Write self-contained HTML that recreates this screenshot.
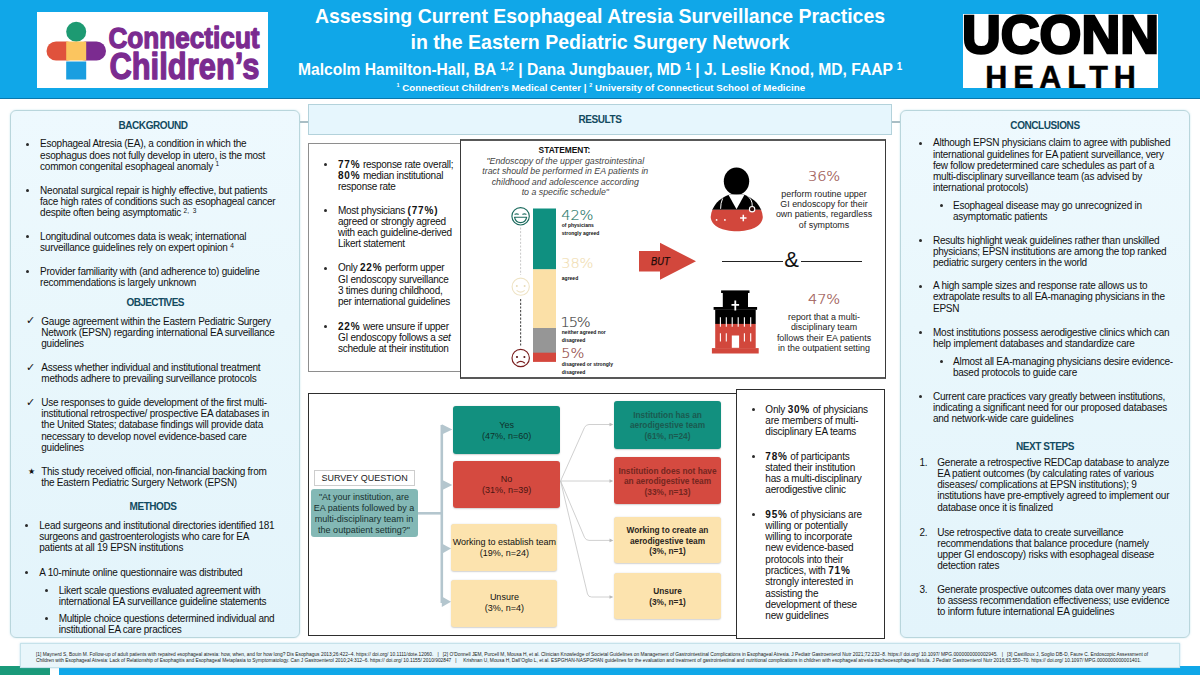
<!DOCTYPE html>
<html lang="en">
<head>
<meta charset="utf-8">
<title>Assessing Current Esophageal Atresia Surveillance Practices</title>
<style>
*{box-sizing:border-box;margin:0;padding:0}
html,body{width:1200px;height:675px;overflow:hidden;background:#fff}
body{position:relative;font-family:"Liberation Sans",sans-serif;color:#111;font-size:10px;line-height:11.2px}
.abs{position:absolute}
#hdr{left:0;top:0;width:1200px;height:99px;background:#10a7e8;border-bottom:1.5px solid #0a78ad}
.panel{background:linear-gradient(180deg,#eef9fe 0%,#e9f7fc 40%,#e3f4fb 100%);border:1px solid #b9d6dc;border-radius:6px;box-shadow:0 0 2px rgba(150,205,225,.55)}
.b{position:absolute;white-space:nowrap;font-size:10px;line-height:11.2px;color:#111}
.h{color:#124a60;font-weight:bold}
.w{color:#fff}
b{font-weight:bold}
b.sp{letter-spacing:0.8px}
sup.s{font-size:6.5px;line-height:0;vertical-align:baseline;position:relative;top:-3.6px;letter-spacing:0}
.rb{font-family:"Liberation Sans",sans-serif}
</style>
</head>
<body>

<!-- ================= PAGE CHROME ================= -->
<div id="hdr" class="abs"></div>
<div class="abs panel" id="lp" style="left:10px;top:109.5px;width:289.6px;height:528px"></div>
<div class="abs panel" id="rp" style="left:900px;top:109.5px;width:290px;height:528px"></div>
<div class="abs" style="left:300px;top:121.3px;width:9px;height:1.4px;background:#a9bec5"></div>
<div class="abs" style="left:891px;top:121.3px;width:9px;height:1.4px;background:#a9bec5"></div>
<div class="abs" id="rh" style="left:308px;top:103.7px;width:584px;height:31px;background:#e6f6fd;border:1px solid #b3d2db"></div>

<!-- ================= HEADER CONTENT ================= -->
<div class="abs" id="cclogo" style="left:36.6px;top:11.5px;width:231px;height:76.7px;background:#fff">
<svg width="231" height="77" viewBox="0 0 231 77" style="position:absolute;left:0;top:0">
  <circle cx="39.2" cy="19.8" r="10" fill="#1d9a72"/>
  <rect x="9.5" y="29.5" width="30" height="19" rx="9.5" fill="#e0523c"/>
  <rect x="39" y="29.5" width="30" height="19" rx="9.5" fill="#7b2b90"/>
  <rect x="29.2" y="29.5" width="20" height="19" fill="#fbc55f"/>
  <rect x="29.2" y="49.5" width="20" height="18" fill="#1a9ee0"/>
  <text x="71.4" y="36.2" font-family="'Liberation Sans',sans-serif" font-weight="bold" font-size="30" fill="#7b2b90" textLength="151.2" lengthAdjust="spacingAndGlyphs" stroke="#7b2b90" stroke-width="1.3" stroke-linejoin="round">Connecticut</text>
  <text x="72.4" y="66.8" font-family="'Liberation Sans',sans-serif" font-weight="bold" font-size="36.6" fill="#7b2b90" textLength="150" lengthAdjust="spacingAndGlyphs" stroke="#7b2b90" stroke-width="1.3" stroke-linejoin="round">Children’s</text>
</svg></div>
<div class="abs" id="uconn" style="left:963px;top:14px;width:195px;height:74px;background:#fff;overflow:hidden">
<svg width="195" height="74" viewBox="0 0 195 74" style="position:absolute;left:0;top:0">
  <text x="-1" y="39" font-family="'Liberation Sans',sans-serif" font-weight="bold" font-size="54.5" fill="#000" stroke="#000" stroke-width="2.6" textLength="197" lengthAdjust="spacingAndGlyphs">UCONN</text>
  <text x="22.3" y="73.7" font-family="'Liberation Sans',sans-serif" font-weight="bold" font-size="30.5" fill="#000" stroke="#000" stroke-width="0.5" textLength="150.5" lengthAdjust="spacing">HEALTH</text>
</svg></div>
<div class="b w" style="left:0.0px;top:4.23px;font-size:20.4px;line-height:24px;letter-spacing:0px;width:1200px;text-align:center;font-weight:bold;transform:scaleX(0.954);transform-origin:600px 50%;">Assessing Current Esophageal Atresia Surveillance Practices</div>
<div class="b w" style="left:0.0px;top:29.53px;font-size:20.4px;line-height:24px;letter-spacing:0px;width:1200px;text-align:center;font-weight:bold;transform:scaleX(0.958);transform-origin:600px 50%;">in the Eastern Pediatric Surgery Network</div>
<div class="b w" style="left:298.0px;top:60.83px;font-size:15.8px;line-height:18px;letter-spacing:0px;font-weight:bold;transform:scaleX(0.987);transform-origin:0 50%;">Malcolm Hamilton-Hall, BA <sup class="s" style="font-size:10px;top:-5.2px">1,2</sup> | Dana Jungbauer, MD <sup class="s" style="font-size:10px;top:-5.2px">1</sup> | J. Leslie Knod, MD, FAAP <sup class="s" style="font-size:10px;top:-5.2px">1</sup></div>
<div class="b w" style="left:396.5px;top:81.64px;font-size:9.7px;line-height:11px;letter-spacing:0.04px;font-weight:bold;"><sup class="s" style="font-size:5.5px;top:-3.3px">1</sup> Connecticut Children’s Medical Center | <sup class="s" style="font-size:5.5px;top:-3.3px">2</sup> University of Connecticut School of Medicine</div>
<!-- ================= LEFT PANEL TEXT ================= -->
<div class="b h" style="left:11.0px;top:120.41px;font-size:10px;line-height:11.2px;letter-spacing:-0.42px;width:284px;text-align:center;">BACKGROUND</div>
<div class="abs" style="left:26px;top:143px;width:3px;height:3px;border-radius:50%;background:#2a2a2a"></div>
<div class="b" style="left:40.1px;top:138.44px;font-size:10px;line-height:11.2px;letter-spacing:-0.25px;">Esophageal Atresia (EA), a condition in which the<br>esophagus does not fully develop in utero, is the most<br>common congenital esophageal anomaly <sup class="s">1</sup></div>
<div class="abs" style="left:26px;top:189px;width:3px;height:3px;border-radius:50%;background:#2a2a2a"></div>
<div class="b" style="left:40.1px;top:184.90px;font-size:10px;line-height:11.2px;letter-spacing:-0.25px;">Neonatal surgical repair is highly effective, but patients<br>face high rates of conditions such as esophageal cancer<br>despite often being asymptomatic <sup class="s">2, &nbsp;3</sup></div>
<div class="abs" style="left:26px;top:235px;width:3px;height:3px;border-radius:50%;background:#2a2a2a"></div>
<div class="b" style="left:40.1px;top:230.96px;font-size:10px;line-height:11.2px;letter-spacing:-0.25px;">Longitudinal outcomes data is weak; international<br>surveillance guidelines rely on expert opinion <sup class="s">4</sup></div>
<div class="abs" style="left:26px;top:270px;width:3px;height:3px;border-radius:50%;background:#2a2a2a"></div>
<div class="b" style="left:40.1px;top:265.90px;font-size:10px;line-height:11.2px;letter-spacing:-0.25px;">Provider familiarity with (and adherence to) guideline<br>recommendations is largely unknown</div>
<div class="b h" style="left:13.2px;top:297.44px;font-size:10px;line-height:11.2px;letter-spacing:-0.62px;width:284px;text-align:center;">OBJECTIVES</div>
<div class="b" style="left:26.4px;top:315.49px;font-size:10.5px;line-height:11.2px;letter-spacing:0px;font-family:"DejaVu Sans",sans-serif;">✓</div>
<div class="b" style="left:41.3px;top:315.67px;font-size:10px;line-height:11.2px;letter-spacing:-0.25px;">Gauge agreement within the Eastern Pediatric Surgery<br>Network (EPSN) regarding international EA surveillance<br>guidelines</div>
<div class="b" style="left:26.4px;top:361.75px;font-size:10.5px;line-height:11.2px;letter-spacing:0px;font-family:"DejaVu Sans",sans-serif;">✓</div>
<div class="b" style="left:41.3px;top:361.93px;font-size:10px;line-height:11.2px;letter-spacing:-0.25px;">Assess whether individual and institutional treatment<br>methods adhere to prevailing surveillance protocols</div>
<div class="b" style="left:26.4px;top:396.90px;font-size:10.5px;line-height:11.2px;letter-spacing:0px;font-family:"DejaVu Sans",sans-serif;">✓</div>
<div class="b" style="left:41.3px;top:397.07px;font-size:10px;line-height:11.2px;letter-spacing:-0.25px;">Use responses to guide development of the first multi-<br>institutional retrospective/ prospective EA databases in<br>the United States; database findings will provide data<br>necessary to develop novel evidence-based care<br>guidelines</div>
<div class="b" style="left:27.6px;top:466.05px;font-size:8.3px;line-height:11.2px;letter-spacing:0px;font-family:"DejaVu Sans",sans-serif;">★</div>
<div class="b" style="left:41.2px;top:466.26px;font-size:10px;line-height:11.2px;letter-spacing:-0.25px;">This study received official, non-financial backing from<br>the Eastern Pediatric Surgery Network (EPSN)</div>
<div class="b h" style="left:11.0px;top:501.31px;font-size:10px;line-height:11.2px;letter-spacing:-0.42px;width:284px;text-align:center;">METHODS</div>
<div class="abs" style="left:25px;top:524px;width:3px;height:3px;border-radius:50%;background:#2a2a2a"></div>
<div class="b" style="left:39.3px;top:519.93px;font-size:10px;line-height:11.2px;letter-spacing:-0.25px;">Lead surgeons and institutional directories identified 181<br>surgeons and gastroenterologists who care for EA<br>patients at all 19 EPSN institutions</div>
<div class="abs" style="left:25px;top:571px;width:3px;height:3px;border-radius:50%;background:#2a2a2a"></div>
<div class="b" style="left:39.3px;top:566.70px;font-size:10px;line-height:11.2px;letter-spacing:-0.25px;">A 10-minute online questionnaire was distributed</div>
<div class="abs" style="left:45px;top:589px;width:3px;height:3px;border-radius:50%;background:#2a2a2a"></div>
<div class="b" style="left:58.7px;top:584.52px;font-size:10px;line-height:11.2px;letter-spacing:-0.25px;">Likert scale questions evaluated agreement with<br>international EA surveillance guideline statements</div>
<div class="abs" style="left:45px;top:617px;width:3px;height:3px;border-radius:50%;background:#2a2a2a"></div>
<div class="b" style="left:58.7px;top:612.66px;font-size:10px;line-height:11.2px;letter-spacing:-0.25px;">Multiple choice questions determined individual and<br>institutional EA care practices</div>
<!-- ================= RIGHT PANEL TEXT ================= -->
<div class="b h" style="left:900.0px;top:120.21px;font-size:10px;line-height:11.2px;letter-spacing:-0.42px;width:290px;text-align:center;">CONCLUSIONS</div>
<div class="abs" style="left:919px;top:142px;width:3px;height:3px;border-radius:50%;background:#2a2a2a"></div>
<div class="b" style="left:933.0px;top:137.44px;font-size:10px;line-height:11.2px;letter-spacing:-0.25px;">Although EPSN physicians claim to agree with published<br>international guidelines for EA patient surveillance, very<br>few follow predetermined care schedules as part of a<br>multi-disciplinary surveillance team (as advised by<br>international protocols)</div>
<div class="abs" style="left:940px;top:204px;width:3px;height:3px;border-radius:50%;background:#2a2a2a"></div>
<div class="b" style="left:953.0px;top:199.84px;font-size:10px;line-height:11.2px;letter-spacing:-0.25px;">Esophageal disease may go unrecognized in<br>asymptomatic patients</div>
<div class="abs" style="left:919px;top:239px;width:3px;height:3px;border-radius:50%;background:#2a2a2a"></div>
<div class="b" style="left:933.0px;top:234.50px;font-size:10px;line-height:11.2px;letter-spacing:-0.25px;">Results highlight weak guidelines rather than unskilled<br>physicians; EPSN institutions are among the top ranked<br>pediatric surgery centers in the world</div>
<div class="abs" style="left:919px;top:285px;width:3px;height:3px;border-radius:50%;background:#2a2a2a"></div>
<div class="b" style="left:933.0px;top:280.28px;font-size:10px;line-height:11.2px;letter-spacing:-0.25px;">A high sample sizes and response rate allows us to<br>extrapolate results to all EA-managing physicians in the<br>EPSN</div>
<div class="abs" style="left:919px;top:331px;width:3px;height:3px;border-radius:50%;background:#2a2a2a"></div>
<div class="b" style="left:933.0px;top:326.56px;font-size:10px;line-height:11.2px;letter-spacing:-0.25px;">Most institutions possess aerodigestive clinics which can<br>help implement databases and standardize care</div>
<div class="abs" style="left:940px;top:360px;width:3px;height:3px;border-radius:50%;background:#2a2a2a"></div>
<div class="b" style="left:953.0px;top:356.01px;font-size:10px;line-height:11.2px;letter-spacing:-0.25px;">Almost all EA-managing physicians desire evidence-<br>based protocols to guide care</div>
<div class="abs" style="left:919px;top:395px;width:3px;height:3px;border-radius:50%;background:#2a2a2a"></div>
<div class="b" style="left:933.0px;top:390.87px;font-size:10px;line-height:11.2px;letter-spacing:-0.25px;">Current care practices vary greatly between institutions,<br>indicating a significant need for our proposed databases<br>and network-wide care guidelines</div>
<div class="b h" style="left:900.0px;top:441.35px;font-size:10px;line-height:11.2px;letter-spacing:-0.42px;width:290px;text-align:center;">NEXT STEPS</div>
<div class="b" style="left:919.5px;top:456.78px;font-size:10px;line-height:11.2px;letter-spacing:-0.25px;">1.</div>
<div class="b" style="left:937.3px;top:456.78px;font-size:10px;line-height:11.2px;letter-spacing:-0.25px;">Generate a retrospective REDCap database to analyze<br>EA patient outcomes (by calculating rates of various<br>diseases/ complications at EPSN institutions); 9<br>institutions have pre-emptively agreed to implement our<br>database once it is finalized</div>
<div class="b" style="left:919.5px;top:526.70px;font-size:10px;line-height:11.2px;letter-spacing:-0.25px;">2.</div>
<div class="b" style="left:937.3px;top:526.70px;font-size:10px;line-height:11.2px;letter-spacing:-0.25px;">Use retrospective data to create surveillance<br>recommendations that balance procedure (namely<br>upper GI endoscopy) risks with esophageal disease<br>detection rates</div>
<div class="b" style="left:919.5px;top:583.80px;font-size:10px;line-height:11.2px;letter-spacing:-0.25px;">3.</div>
<div class="b" style="left:937.3px;top:583.80px;font-size:10px;line-height:11.2px;letter-spacing:-0.25px;">Generate prospective outcomes data over many years<br>to assess recommendation effectiveness; use evidence<br>to inform future international EA guidelines</div>

<!-- ================= RESULTS ================= -->
<div class="b h" style="left:308.0px;top:113.94px;font-size:10px;line-height:11.2px;letter-spacing:-0.42px;width:584px;text-align:center;">RESULTS</div>
<div class="abs" style="left:308.2px;top:143px;width:154px;height:228.6px;background:#fff;border:1.5px solid #8e8e8e"></div>
<div class="abs" style="left:324px;top:163px;width:3px;height:3px;border-radius:50%;background:#2a2a2a"></div>
<div class="b" style="left:338.0px;top:158.86px;font-size:10px;line-height:11.15px;letter-spacing:-0.27px;"><b class='sp'>77%</b> response rate overall;<br><b class='sp'>80%</b> median institutional<br>response rate</div>
<div class="abs" style="left:324px;top:209px;width:3px;height:3px;border-radius:50%;background:#2a2a2a"></div>
<div class="b" style="left:338.0px;top:204.86px;font-size:10px;line-height:11.15px;letter-spacing:-0.27px;">Most physicians <b class='sp'>(77%)</b><br>agreed or strongly agreed<br>with each guideline-derived<br>Likert statement</div>
<div class="abs" style="left:324px;top:267px;width:3px;height:3px;border-radius:50%;background:#2a2a2a"></div>
<div class="b" style="left:338.0px;top:262.46px;font-size:10px;line-height:11.15px;letter-spacing:-0.27px;">Only <b class='sp'>22%</b> perform upper<br>GI endoscopy surveillance<br>3 times during childhood,<br>per international guidelines</div>
<div class="abs" style="left:324px;top:325px;width:3px;height:3px;border-radius:50%;background:#2a2a2a"></div>
<div class="b" style="left:338.0px;top:320.96px;font-size:10px;line-height:11.15px;letter-spacing:-0.27px;"><b class='sp'>22%</b> were unsure if upper<br>GI endoscopy follows a <i>set</i><br>schedule at their institution</div>
<div class="abs" style="left:460px;top:139px;width:425.6px;height:239.5px;background:#fff;border:1.6px solid #3a3a3a;border-top:2px solid #585858;border-bottom:2px solid #585858"></div>
<div class="b" style="left:460.0px;top:145.09px;font-size:8.4px;line-height:10px;letter-spacing:0px;width:209px;text-align:center;font-weight:bold;color:#111;">STATEMENT:</div>
<div class="b" style="left:460.8px;top:155.77px;font-size:8.8px;line-height:10.37px;letter-spacing:0px;width:209px;text-align:center;font-style:italic;color:#434343;">"Endoscopy of the upper gastrointestinal<br>tract should be performed in EA patients in<br>childhood and adolescence according<br>to a specific schedule"</div>
<svg class="abs" style="left:500px;top:200px" width="90" height="178" viewBox="500 200 90 178">
  <rect x="533" y="208.5" width="23" height="61" fill="#0f9080"/>
  <rect x="533" y="269.3" width="23" height="59" fill="#fbe0a7"/>
  <rect x="533" y="328" width="23" height="25" fill="#969696"/>
  <rect x="533" y="352.7" width="23" height="9.2" fill="#d4473d"/>
  <line x1="520.6" y1="227.5" x2="520.6" y2="275" stroke="#b9b9b9" stroke-width="0.8" stroke-dasharray="2 1.6"/>
  <line x1="520.6" y1="299" x2="520.6" y2="346.5" stroke="#555" stroke-width="1.15" stroke-dasharray="2.2 1.5"/>
  <g fill="none" stroke="#1c6b5e" stroke-width="1.15" stroke-linecap="round">
    <circle cx="520.6" cy="216.3" r="8.7"/>
    <path d="M515 214.2 Q516.6 213.4 518.3 214.2"/>
    <path d="M522.8 214.2 Q524.4 213.4 526 214.2"/>
    <path d="M514.5 217.2 H526.7 Q525.6 222.6 520.6 222.6 Q515.6 222.6 514.5 217.2 Z" stroke-linejoin="round"/>
  </g>
  <g fill="none" stroke="#eee3c4" stroke-width="1.1" stroke-linecap="round">
    <circle cx="520.7" cy="286.7" r="8.6"/>
    <path d="M517 290.6 Q520.7 293.6 524.3 290.6"/>
  </g>
  <circle cx="516.8" cy="286" r="1" fill="#e9dcb8"/><circle cx="524.6" cy="286" r="1" fill="#e9dcb8"/>
  <g fill="none" stroke="#7a1f1f" stroke-width="1.15" stroke-linecap="round">
    <circle cx="520.7" cy="358" r="8.7"/>
    <path d="M517 363 Q520.8 359.8 524.6 363"/>
  </g>
  <circle cx="517" cy="357" r="1.05" fill="#5a1515"/><circle cx="524.4" cy="357" r="1.05" fill="#5a1515"/>
</svg>
<div class="b" style="left:561.3px;top:206.94px;font-size:14.6px;line-height:16px;letter-spacing:-0.2px;font-family:'DejaVu Sans',sans-serif;font-weight:200;color:#1f7567;-webkit-text-stroke:0.15px #1f7567;">42%</div>
<div class="b" style="left:561.8px;top:221px;font-size:5px;line-height:8px;font-weight:bold;color:#111">of physicians<br>strongly agreed</div>
<div class="b" style="left:561.3px;top:255.24px;font-size:14.6px;line-height:16px;letter-spacing:-0.2px;font-family:'DejaVu Sans',sans-serif;font-weight:200;color:#f1deb2;-webkit-text-stroke:0.15px #f1deb2;">38%</div>
<div class="b" style="left:561.8px;top:274px;font-size:5px;line-height:8px;font-weight:bold;color:#111">agreed</div>
<div class="b" style="left:560.6px;top:313.94px;font-size:14.6px;line-height:16px;letter-spacing:-1.15px;font-family:'DejaVu Sans',sans-serif;font-weight:200;color:#3d3d3d;-webkit-text-stroke:0.15px #3d3d3d;">15%</div>
<div class="b" style="left:561.8px;top:328px;font-size:5px;line-height:8px;font-weight:bold;color:#111">neither agreed nor<br>disagreed</div>
<div class="b" style="left:561.3px;top:345.14px;font-size:14.6px;line-height:16px;letter-spacing:-0.2px;font-family:'DejaVu Sans',sans-serif;font-weight:200;color:#8f4541;-webkit-text-stroke:0.15px #8f4541;">5%</div>
<div class="b" style="left:561.8px;top:360px;font-size:5px;line-height:8px;font-weight:bold;color:#111">disagreed or strongly<br>disagreed</div>
<svg class="abs" style="left:636px;top:240px" width="64" height="44" viewBox="636 240 64 44">
  <polygon points="639,251 660,251 660,242.7 696,261.3 660,279.8 660,271.5 639,271.5" fill="#d2473c"/>
  <text x="651" y="265.2" font-family="'Liberation Sans',sans-serif" font-style="italic" font-size="10.4" fill="#1a0a08" textLength="18.6" lengthAdjust="spacingAndGlyphs" stroke="#1a0a08" stroke-width="0.25">BUT</text>
</svg>
<svg class="abs" style="left:705px;top:164px" width="64" height="72" viewBox="705 164 64 72">
  <defs><clipPath id="docb"><path d="M710.7 217 C711.5 206 719.5 198 729.5 194.6 L743.8 194.6 C753.8 198 762 206 762.8 217 C762.3 226.5 750.5 231.2 736.7 231.2 C723 231.2 711.2 226.5 710.7 217 Z"/></clipPath></defs>
  <ellipse cx="736.5" cy="181.3" rx="12.7" ry="13.8" fill="#000"/>
  <g clip-path="url(#docb)">
    <rect x="705" y="190" width="64" height="19.8" fill="#000"/>
    <rect x="705" y="209.8" width="64" height="26" fill="#d2473c"/>
  </g>
  <polygon points="728.3,194.4 744.6,194.4 736.5,209.3" fill="#fff"/>
  <path d="M722.6 198.5 Q720.6 203 720.6 208.8" fill="none" stroke="#fff" stroke-width="1"/>
  <path d="M746.8 195.3 Q752.6 199.5 752.2 206" fill="none" stroke="#fff" stroke-width="1"/>
  <circle cx="752.1" cy="209.2" r="2.7" fill="#2a0d0b" stroke="#fff" stroke-width="1.1"/>
  <path d="M743.3 214.8 V221.2 M740.1 218 H746.5" stroke="#fff" stroke-width="1.5"/>
  <circle cx="716.6" cy="219.9" r="0.9" fill="#fff"/><circle cx="724.9" cy="219.9" r="0.9" fill="#fff"/>
</svg>
<svg class="abs" style="left:705px;top:284px" width="64" height="76" viewBox="705 284 64 76">
  <rect x="721.1" y="290.4" width="28.4" height="2.6" fill="#000"/>
  <rect x="722.8" y="292.8" width="25.2" height="14.4" fill="#000"/>
  <rect x="713.6" y="307" width="43.5" height="2.8" fill="#000"/>
  <rect x="715.2" y="309.6" width="40.5" height="14.4" fill="#000"/>
  <rect x="715.2" y="323.9" width="40.5" height="24.4" fill="#d2473c"/>
  <rect x="711.9" y="348.1" width="46.8" height="5.4" fill="#d2473c"/>
  <path d="M735.3 300.6 V310.4 M731.5 304.8 H739.1" stroke="#fff" stroke-width="1.8"/>
  <path d="M720.4 317.3 V326.8 M726.3 317.3 V326.8 M732.2 317.3 V326.8 M738.2 317.3 V326.8 M744.4 317.3 V326.8 M750.7 317.3 V326.8" stroke="#fff" stroke-width="1.1"/>
  <path d="M720.4 333.3 V341.6 M726.3 333.3 V341.6 M744.4 333.3 V341.6 M750.7 333.3 V341.6" stroke="#fff" stroke-width="1.1"/>
  <rect x="731.8" y="335.5" width="7.3" height="12.3" fill="#fff"/>
</svg>
<div class="b" style="left:764.0px;top:168.44px;font-size:14.6px;line-height:16px;letter-spacing:-0.2px;font-family:'DejaVu Sans',sans-serif;font-weight:200;color:#9a534e;-webkit-text-stroke:0.2px #9a534e;width:120px;text-align:center;">36%</div>
<div class="b" style="left:764.0px;top:188.63px;font-size:8.9px;line-height:10.37px;letter-spacing:0px;color:#222;width:120px;text-align:center;">perform routine upper<br>GI endoscopy for their<br>own patients, regardless<br>of symptoms</div>
<div class="b" style="left:764.0px;top:290.64px;font-size:14.6px;line-height:16px;letter-spacing:-0.2px;font-family:'DejaVu Sans',sans-serif;font-weight:200;color:#9a534e;-webkit-text-stroke:0.2px #9a534e;width:120px;text-align:center;">47%</div>
<div class="b" style="left:764.0px;top:311.83px;font-size:8.9px;line-height:10.37px;letter-spacing:0px;color:#222;width:120px;text-align:center;">report that a multi-<br>disciplinary team<br>follows their EA patients<br>in the outpatient setting</div>
<div class="abs" style="left:721.5px;top:260.5px;width:61px;height:1.2px;background:#222"></div>
<div class="abs" style="left:800.5px;top:260.5px;width:61px;height:1.2px;background:#222"></div>
<div class="b" style="left:741.5px;top:248.38px;font-size:22px;line-height:24px;letter-spacing:0px;width:100px;text-align:center;color:#111;">&amp;</div>

<!-- ================= SURVEY DIAGRAM ================= -->
<div class="abs" style="left:307.5px;top:392.6px;width:432px;height:243.6px;background:#fff;border:1.4px solid #2e2e2e"></div>
<svg class="abs" style="left:410px;top:396px" width="215" height="236" viewBox="410 396 215 236">
  <g stroke="#b4c6ce" stroke-width="2.6" fill="none">
    <path d="M418 513.3 H441.8"/>
    <path d="M441.8 425 V603"/>
  </g>
  <g fill="#b4c6ce">
    <polygon points="441.8,424.2 452.3,429.4 441.8,434.6"/>
    <polygon points="441.8,479.8 452.3,485 441.8,490.2"/>
    <polygon points="441.8,543.4 451,548.6 441.8,553.8"/>
    <polygon points="441.8,596.6 451,601.8 441.8,607"/>
  </g>
  <g stroke="#c4c4c4" stroke-width="0.8" fill="none" stroke-linejoin="round">
    <path d="M560.6 481 L584.5 427.5 Q586 424.5 589 424.5 H611.5"/>
    <path d="M560.6 481 H611.5"/>
    <path d="M560.6 481 L584.5 537.4 Q586 540.4 589 540.4 H611.5"/>
    <path d="M560.6 481 L587.5 594 Q588.4 597 591.5 597 H611.5"/>
  </g>
  <g fill="#b9b9b9">
    <polygon points="609.5,422.7 613.3,424.5 609.5,426.3"/>
    <polygon points="609.5,479.2 613.3,481 609.5,482.8"/>
    <polygon points="609.5,538.6 613.3,540.4 609.5,542.2"/>
    <polygon points="609.5,595.2 613.3,597 609.5,598.8"/>
  </g>
</svg>
<div class="abs" style="left:453px;top:406.2px;width:107.3px;height:47.4px;background:#12907f;border-radius:3px;box-shadow:0 0.5px 1.5px rgba(0,0,0,.18)"></div>
<div class="abs" style="left:453px;top:460.9px;width:107.3px;height:47.4px;background:#d54a40;border-radius:3px;box-shadow:0 0.5px 1.5px rgba(0,0,0,.18)"></div>
<div class="abs" style="left:451.3px;top:523.7px;width:106.2px;height:47.4px;background:#fce3ae;border-radius:3px;box-shadow:0 0.5px 1.5px rgba(0,0,0,.18)"></div>
<div class="abs" style="left:451.3px;top:579.5px;width:106.2px;height:47.4px;background:#fce3ae;border-radius:3px;box-shadow:0 0.5px 1.5px rgba(0,0,0,.18)"></div>
<div class="b" style="left:426.6px;top:419.78px;font-size:9px;line-height:10.8px;letter-spacing:0px;width:160px;text-align:center;color:#0f302b;">Yes<br>(47%, n=60)</div>
<div class="b" style="left:426.6px;top:474.38px;font-size:9px;line-height:10.8px;letter-spacing:0px;width:160px;text-align:center;color:#4a1511;">No<br>(31%, n=39)</div>
<div class="b" style="left:424.4px;top:537.28px;font-size:9px;line-height:10.8px;letter-spacing:0px;width:160px;text-align:center;color:#111;">Working to establish team<br>(19%, n=24)</div>
<div class="b" style="left:424.4px;top:592.48px;font-size:9px;line-height:10.8px;letter-spacing:0px;width:160px;text-align:center;color:#111;">Unsure<br>(3%, n=4)</div>
<div class="abs" style="left:314.3px;top:469.5px;width:100.5px;height:16px;background:#fff;border:1px solid #cdcdcd"></div>
<div class="b" style="left:284.6px;top:472.88px;font-size:9px;line-height:11px;letter-spacing:0px;width:160px;text-align:center;color:#1a1a1a;">SURVEY QUESTION</div>
<div class="abs" style="left:310.8px;top:489px;width:107.6px;height:47.5px;background:#83b8b5;border-radius:3px"></div>
<div class="b" style="left:284.0px;top:492.16px;font-size:9px;line-height:10.85px;letter-spacing:0px;width:160px;text-align:center;color:#17302f;">"At your institution, are<br>EA patients followed by a<br>multi-disciplinary team in<br>the outpatient setting?"</div>
<div class="abs" style="left:614px;top:401px;width:107px;height:47.5px;background:#12907f;border-radius:3px;box-shadow:0 0.5px 1.5px rgba(0,0,0,.18)"></div>
<div class="abs" style="left:614px;top:457px;width:107px;height:47.2px;background:#d54a40;border-radius:3px;box-shadow:0 0.5px 1.5px rgba(0,0,0,.18)"></div>
<div class="abs" style="left:614px;top:516.8px;width:107px;height:46.7px;background:#fce3ae;border-radius:3px;box-shadow:0 0.5px 1.5px rgba(0,0,0,.18)"></div>
<div class="abs" style="left:614px;top:572.7px;width:107px;height:46.7px;background:#fce3ae;border-radius:3px;box-shadow:0 0.5px 1.5px rgba(0,0,0,.18)"></div>
<div class="b" style="left:587.5px;top:410.00px;font-size:8.3px;line-height:10.45px;letter-spacing:0px;width:160px;text-align:center;color:#1b5a50;font-weight:bold;">Institution has an<br>aerodigestive team<br>(61%, n=24)</div>
<div class="b" style="left:587.5px;top:466.07px;font-size:8.3px;line-height:10.3px;letter-spacing:0px;width:160px;text-align:center;color:#74261f;font-weight:bold;">Institution does not have<br>an aerodigestive team<br>(33%, n=13)</div>
<div class="b" style="left:587.5px;top:525.37px;font-size:8.3px;line-height:10.5px;letter-spacing:0px;width:160px;text-align:center;color:#2b2620;font-weight:bold;">Working to create an<br>aerodigestive team<br>(3%, n=1)</div>
<div class="b" style="left:587.5px;top:586.27px;font-size:8.3px;line-height:10.5px;letter-spacing:0px;width:160px;text-align:center;color:#2b2620;font-weight:bold;">Unsure<br>(3%, n=1)</div>
<div class="abs" style="left:736.2px;top:388.8px;width:148.5px;height:250px;background:#fff;border:1.5px solid #2e2e2e"></div>
<div class="abs" style="left:752px;top:408px;width:3px;height:3px;border-radius:50%;background:#2a2a2a"></div>
<div class="b" style="left:765.3px;top:403.88px;font-size:10px;line-height:11.3px;letter-spacing:-0.2px;">Only <b class='sp'>30%</b> of physicians<br>are members of multi-<br>disciplinary EA teams</div>
<div class="abs" style="left:752px;top:455px;width:3px;height:3px;border-radius:50%;background:#2a2a2a"></div>
<div class="b" style="left:765.3px;top:450.58px;font-size:10px;line-height:11.3px;letter-spacing:-0.2px;"><b class='sp'>78%</b> of participants<br>stated their institution<br>has a multi-disciplinary<br>aerodigestive clinic</div>
<div class="abs" style="left:752px;top:513px;width:3px;height:3px;border-radius:50%;background:#2a2a2a"></div>
<div class="b" style="left:765.3px;top:508.59px;font-size:10px;line-height:11.3px;letter-spacing:-0.2px;"><b class='sp'>95%</b> of physicians are<br>willing or potentially<br>willing to incorporate<br>new evidence-based<br>protocols into their<br>practices, with <b class='sp'>71%</b><br>strongly interested in<br>assisting the<br>development of these<br>new guidelines</div>

<!-- ================= FOOTER ================= -->
<div class="abs" style="left:0;top:666px;width:50px;height:9px;background:#1a9a7a"></div>
<div class="abs" style="left:59px;top:666px;width:1141px;height:9px;background:#10a7e8"></div>
<div class="abs" id="ft" style="left:19.5px;top:642.5px;width:1160.5px;height:25.5px;background:#e9f6fb;border:1px solid #c6e2ea;box-shadow:0 0 2px rgba(120,190,215,.5)"></div>
<div class="b" id="f1" style="left:36px;top:652.02px;font-size:4.84px;line-height:6px;color:#1a1a1a"><span style='letter-spacing:0.02px'>[1] Maynerd S, Bouin M. Follow-up of adult patients with repaired esophageal atresia: how, when, and for how long? Dis Esophagus 2013;26:422–4. https:// doi.org/ 10.1111/dote.12060.</span>&nbsp;&nbsp;&nbsp;|&nbsp;&nbsp;&nbsp;[2] O’Donnell JEM, Purcell M, Mousa H, et al. Clinician Knowledge of Societal Guidelines on Management of Gastrointestinal Complications in Esophageal Atresia. J Pediatr Gastroenterol Nutr 2021;72:232–8. https:// doi.org/ 10.1097/ MPG.0000000000002945.&nbsp;&nbsp;&nbsp;|&nbsp;&nbsp;&nbsp;[3] Castilloux J, Soglio DB-D, Faure C. Endoscopic Assessment of</div>
<div class="b" id="f2" style="left:36px;top:657.62px;font-size:4.84px;line-height:6px;color:#1a1a1a">Children with Esophageal Atresia: Lack of Relationship of Esophagitis and Esophageal Metaplasia to Symptomatology. Can J Gastroenterol 2010;24:312–6. https:// doi.org/ 10.1155/ 2010/902847&nbsp;&nbsp;&nbsp;|&nbsp;&nbsp;&nbsp;&nbsp;&nbsp;Krishnan U, Mousa H, Dall’Oglio L, et al. ESPGHAN-NASPGHAN guidelines for the evaluation and treatment of gastrointestinal and nutritional complications in children with esophageal atresia-tracheoesophageal fistula. J Pediatr Gastroenterol Nutr 2016;63:550–70. https:// doi.org/ 10.1097/ MPG.0000000000001401.</div>

</body>
</html>
